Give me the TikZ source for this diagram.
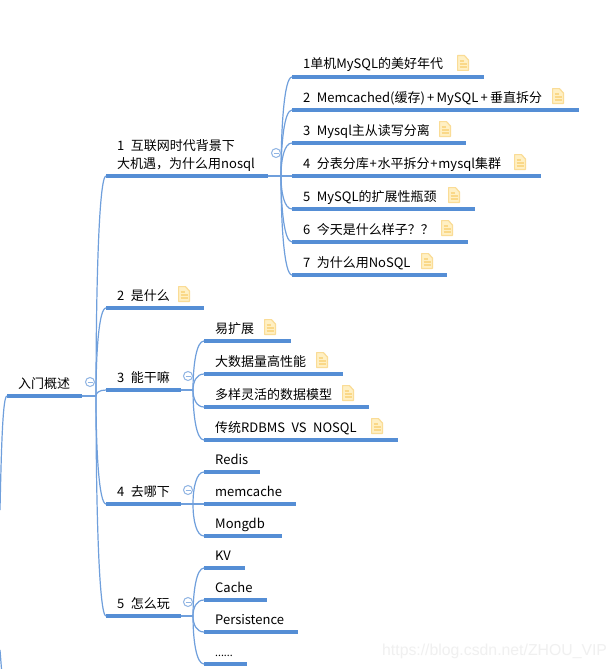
\documentclass[tikz,border=0pt]{standalone}
\usepackage{fontspec}
\setmainfont[WordSpace=2.2]{Noto Sans CJK SC}
\newfontfamily\wmfont{Liberation Sans}
\usetikzlibrary{calc}
\definecolor{barblue}{HTML}{558ED5}
\definecolor{linkblue}{HTML}{6F9FDC}
\definecolor{circblue}{HTML}{8FB4E3}
\definecolor{notefill}{HTML}{FFF0C4}
\definecolor{noteedge}{HTML}{FADC96}
\definecolor{noteline}{HTML}{FAD888}
\tikzset{
  x=1pt,y=-1pt,
  barline/.style={draw=barblue,line width=3.2pt},
  linkline/.style={draw=linkblue,line width=1.2pt},
  label/.style={anchor=base west,inner sep=0pt,font=\fontsize{13}{18}\selectfont,text=black},
  collapse/.style={circle,draw=circblue,line width=1pt,minimum size=9pt,inner sep=0pt},
  watermark/.style={anchor=base west,inner sep=0pt,text=black!6,font=\wmfont\fontsize{15.8}{16}\selectfont},
}
% \topic{name}{x0}{y}{x1}{text}
\newcommand{\topic}[5]{%
  \coordinate (#1-s) at (#2,#3);
  \coordinate (#1-e) at (#4,#3);
  \draw[barline] (#1-s) -- (#1-e);
  \node[label] (#1-t) at ($(#1-s)+(11,-8)$) {#5};
}
\newcommand{\notemark}[3]{%
  \coordinate (#1) at (#2,#3);
  \draw[draw=noteedge,fill=notefill,line width=1.2pt,line join=round]
    ($(#1)+(0.6,0.6)$) -- ($(#1)+(7.5,0.6)$) -- ($(#1)+(11.4,5)$) -- ($(#1)+(11.4,15.4)$) -- ($(#1)+(0.6,15.4)$) -- cycle;
  \draw[draw=noteline,line width=1.5pt] ($(#1)+(2.5,6)$) -- ($(#1)+(6.5,6)$)
    ($(#1)+(2.5,9)$) -- ($(#1)+(9.5,9)$) ($(#1)+(2.5,12)$) -- ($(#1)+(9.5,12)$);
}
\newcommand{\linkto}[2]{%
  \draw[linkline] (#1) .. controls ($(#1)!0.5!(#1 |- #2-s)$) and ($(#1 |- #2-s)!0.3!(#2-s)$) .. (#2-s);
}
\newcommand{\wideplus}{\kern2.2pt+\kern2.2pt}
\newcommand{\midplus}{\kern0.8pt+\kern0.8pt}
\begin{document}
\begin{tikzpicture}
\useasboundingbox (0,0) rectangle (615,669);
\fill[white] (0,0) rectangle (615,669);
\node[watermark] (wm) at (382,655) {https://blog.csdn.net/ZHOU\_VIP};

\coordinate (hubA) at (96,396);
\coordinate (hubB) at (281,176);
\coordinate (hubC) at (193,390);
\coordinate (hubD) at (193,504);
\coordinate (hubE) at (193,616);

% root
\topic{root}{7}{396}{82}{}
\node[label] (roott) at (18,388) {入门概述};
\draw[linkline] (root-e) -- (hubA);
\coordinate (offA) at (0,510);
\coordinate (offB) at (0,650);
\coordinate (offC) at (1.5,669);
\draw[linkline] (root-s) .. controls (3,396) and (1.5,440) .. (offA);
\draw[linkline] (offB) -- (offC);

% level one
\topic{a}{106}{176}{268}{}
\node[label,align=left,anchor=base west] (at) at (117,168) {1 互联网时代背景下\\大机遇，为什么用nosql};
\topic{b}{106}{308}{204}{2 是什么}
\topic{c}{106}{390}{181}{3 能干嘛}
\topic{d}{106}{504}{181}{4 去哪下}
\topic{e}{106}{616}{181}{5 怎么玩}
\foreach \n in {a,b,c,d,e}{\linkto{hubA}{\n}}
\draw[linkline] (a-e) -- (hubB);
\draw[linkline] (c-e) -- (hubC);
\draw[linkline] (d-e) -- (hubD);
\draw[linkline] (e-e) -- (hubE);

% children of 1
\topic{a1}{292}{77}{483.5}{1单机MySQL的美好年代}
\topic{a2}{292}{110}{579}{2 Memcached(缓存)\wideplus MySQL\wideplus 垂直拆分}
\topic{a3}{292}{143}{465.5}{3 Mysql主从读写分离}
\topic{a4}{292}{176}{540.5}{4 分表分库\midplus 水平拆分\midplus mysql集群}
\topic{a5}{292}{209}{474.5}{5 MySQL的扩展性瓶颈}
\topic{a6}{292}{242}{467.5}{6 今天是什么样子？？}
\topic{a7}{292}{275}{447}{7 为什么用NoSQL}
\foreach \n in {a1,a2,a3,a4,a5,a6,a7}{\linkto{hubB}{\n}}

% children of 3
\topic{c1}{204}{341}{290.5}{易扩展}
\topic{c2}{204}{374}{342.5}{大数据量高性能}
\topic{c3}{204}{407}{368.5}{多样灵活的数据模型}
\topic{c4}{204}{440}{397.5}{传统RDBMS VS NOSQL}
\foreach \n in {c1,c2,c3,c4}{\linkto{hubC}{\n}}

% children of 4
\topic{d1}{204}{472}{260}{Redis}
\topic{d2}{204}{504}{295.5}{memcache}
\topic{d3}{204}{536}{281.5}{Mongdb}
\foreach \n in {d1,d2,d3}{\linkto{hubD}{\n}}

% children of 5
\topic{e1}{204}{568}{245}{KV}
\topic{e2}{204}{600}{266.5}{Cache}
\topic{e3}{204}{632}{297.5}{Persistence}
\topic{e4}{204}{664}{246.5}{\fontsize{10.5}{18}\selectfont ......}
\foreach \n in {e1,e2,e3,e4}{\linkto{hubE}{\n}}

% collapse circles
\foreach \nm/\x/\y in {ca/276/153,cb/90/382,cc/188/376,cd/188/490,ce/188/602}{
  \node[collapse,fill=white] (\nm) at (\x,\y) {};
  \draw[draw=circblue,line width=1pt] ($(\nm)+(-2.5,0)$) -- ($(\nm)+(2.5,0)$);
}

% note icons
\notemark{n1}{457}{55}
\notemark{n2}{552}{88}
\notemark{n3}{439}{121}
\notemark{n4}{514}{154}
\notemark{n5}{448}{187}
\notemark{n6}{441}{220}
\notemark{n7}{421}{253}
\notemark{n8}{178}{286}
\notemark{n9}{264}{319}
\notemark{n10}{316}{352}
\notemark{n11}{342}{385}
\notemark{n12}{371}{418}
\end{tikzpicture}
\end{document}
